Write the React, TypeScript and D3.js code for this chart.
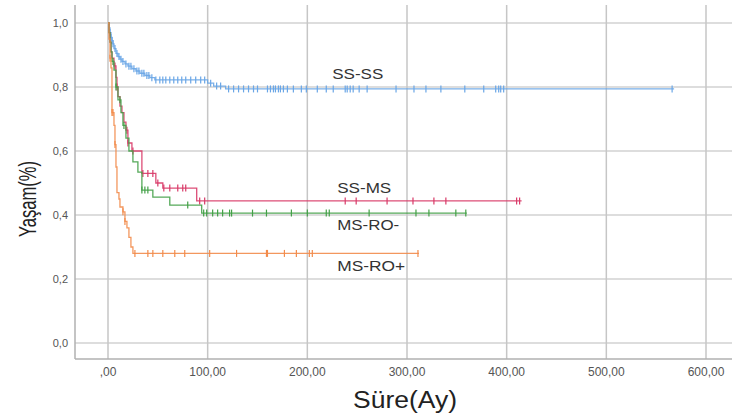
import React from "react";
import * as d3 from "d3";

const xTicks = [0, 100, 200, 300, 400, 500, 600];
const xTickLabels = [",00", "100,00", "200,00", "300,00", "400,00", "500,00", "600,00"];
const yTicks = [0, 0.2, 0.4, 0.6, 0.8, 1.0];
const yTickLabels = ["0,0", "0,2", "0,4", "0,6", "0,8", "1,0"];

// SS-SS
const ssSsTimes = [0, 1, 2, 3, 4, 5, 6, 8, 10, 12, 14, 17, 20, 24, 28, 32, 37, 42, 47, 100, 106, 118];
const ssSsSurv = [1.0, 0.985, 0.97, 0.955, 0.945, 0.935, 0.92, 0.905, 0.895, 0.887, 0.88, 0.872, 0.865, 0.857, 0.85, 0.843, 0.836, 0.829, 0.822, 0.812, 0.803, 0.794];
const ssSsEnd = 568;
const ssSsCensor = [1, 2, 3, 4, 5, 7, 9, 11, 13, 15, 18, 21, 23, 26, 29, 31, 34, 36, 39, 41, 44, 48, 52, 55, 58, 62, 66, 70, 74, 78, 83, 88, 93, 97, 103, 109, 113, 121, 126, 131, 136, 141, 146, 150, 160, 163, 166, 168, 171, 173, 176, 180, 186, 194, 199, 210, 219, 226, 238, 240, 243, 246, 252, 260, 289, 307, 319, 334, 358, 377, 389, 392, 394, 397, 566];

// SS-MS
const ssMsTimes = [0, 1, 2, 3, 4, 6, 8, 9, 10, 12, 14, 16, 18, 20, 24, 34, 48, 55, 89];
const ssMsSurv = [1.0, 0.97, 0.94, 0.91, 0.89, 0.866, 0.83, 0.8, 0.77, 0.74, 0.72, 0.69, 0.665, 0.625, 0.6, 0.53, 0.5, 0.484, 0.444];
const ssMsEnd = 415;
const ssMsCensor = [7, 9, 19, 20, 25, 35, 40, 45, 50, 56, 62, 70, 75, 78, 92, 97, 238, 249, 280, 306, 327, 339, 410, 413];

// MS-RO-
const msRoNegTimes = [0, 1, 2, 3, 4, 6, 8, 10, 13, 15, 18, 21, 25, 30, 34, 45, 62, 94];
const msRoNegSurv = [1.0, 0.97, 0.94, 0.91, 0.88, 0.853, 0.8, 0.76, 0.72, 0.68, 0.64, 0.6, 0.566, 0.534, 0.478, 0.456, 0.431, 0.406];
const msRoNegEnd = 360;
const msRoNegCensor = [5, 8, 12, 16, 34, 37, 40, 80, 96, 99, 105, 110, 115, 122, 124, 145, 159, 184, 200, 219, 222, 262, 309, 322, 349, 359];

// MS-RO+
const msRoPosTimes = [0, 1, 2, 3, 4, 6, 7, 8, 9, 11, 12, 15, 17, 19, 21, 23, 25];
const msRoPosSurv = [1.0, 0.95, 0.89, 0.86, 0.72, 0.68, 0.62, 0.55, 0.47, 0.45, 0.425, 0.41, 0.38, 0.36, 0.33, 0.3, 0.28];
const msRoPosEnd = 312;
const msRoPosCensor = [2, 4, 5, 7, 15, 17, 27, 40, 45, 55, 67, 77, 102, 129, 159, 160, 177, 189, 202, 205, 311];

const seriesNames = ["SS-SS", "SS-MS", "MS-RO-", "MS-RO+"];
const seriesColors = ["#6aa6e6", "#d83a68", "#43a047", "#f28c4c"];

const W = 732;
const H = 415;
const FONT = "'Liberation Sans', Arial, sans-serif";

function stepAt(times: number[], surv: number[], t: number) {
  let v = surv[0];
  for (let i = 0; i < times.length; i++) {
    if (times[i] <= t) v = surv[i];
  }
  return v;
}

export default function App() {
  const x = d3.scaleLinear().domain([0, 600]).range([108, 706]);
  const y = d3.scaleLinear().domain([0, 1]).range([343, 23]);
  const left = 75, right = 732, top = 5, bottom = 359;

  const series = [
    { times: ssSsTimes, surv: ssSsSurv, end: ssSsEnd, censor: ssSsCensor },
    { times: ssMsTimes, surv: ssMsSurv, end: ssMsEnd, censor: ssMsCensor },
    { times: msRoNegTimes, surv: msRoNegSurv, end: msRoNegEnd, censor: msRoNegCensor },
    { times: msRoPosTimes, surv: msRoPosSurv, end: msRoPosEnd, censor: msRoPosCensor },
  ];

  const line = d3
    .line<[number, number]>()
    .x((d) => x(d[0]))
    .y((d) => y(d[1]))
    .curve(d3.curveStepAfter);

  const labelPos = [
    { t: 225, v: 0.84, w: 51 },
    { t: 230, v: 0.484, w: 54 },
    { t: 230, v: 0.369, w: 62 },
    { t: 230, v: 0.24, w: 68 },
  ];

  return (
    <svg width={W} height={H} style={{ position: "absolute", left: 0, top: 0, background: "#fff" }}>
      <rect x={0} y={0} width={W} height={H} fill="#fff" />
      {yTicks.map((v) => (
        <line key={"gy" + v} x1={left} x2={right} y1={y(v)} y2={y(v)} stroke="#d2d2d2" strokeWidth={1.5} />
      ))}
      {xTicks.map((v) => (
        <line key={"gx" + v} x1={x(v)} x2={x(v)} y1={top} y2={bottom} stroke="#c6c6c6" strokeWidth={1.5} />
      ))}
      <line x1={left} x2={left} y1={top} y2={bottom} stroke="#b0b0b0" strokeWidth={1.5} />
      <line x1={left} x2={right} y1={bottom} y2={bottom} stroke="#b0b0b0" strokeWidth={1.5} />
      {yTicks.map((v, i) => (
        <text key={"ty" + v} x={68} y={y(v)} dy="0.35em" textAnchor="end" fontFamily={FONT} fontSize={11} fill="#555">
          {yTickLabels[i]}
        </text>
      ))}
      {xTicks.map((v, i) => (
        <text key={"tx" + v} x={x(v)} y={376} textAnchor="middle" fontFamily={FONT} fontSize={12} fill="#555">
          {xTickLabels[i]}
        </text>
      ))}
      {series.map((s, i) => {
        const pts: [number, number][] = s.times.map((t, j) => [t, s.surv[j]] as [number, number]);
        pts.push([s.end, s.surv[s.surv.length - 1]]);
        return (
          <g key={"s" + i}>
            <path d={line(pts) || ""} fill="none" stroke={seriesColors[i]} strokeWidth={1.3} opacity={0.9} />
            {s.censor.map((c, k) => {
              const cx = x(c);
              const cy = y(stepAt(s.times, s.surv, c));
              return <line key={k} x1={cx} x2={cx} y1={cy - 3.5} y2={cy + 3.5} stroke={seriesColors[i]} strokeWidth={1.2} />;
            })}
          </g>
        );
      })}
      {seriesNames.map((n, i) => (
        <text key={"l" + i} x={x(labelPos[i].t)} y={y(labelPos[i].v)} dy="0.35em" fontFamily={FONT} fontSize={15}
          textLength={labelPos[i].w} lengthAdjust="spacingAndGlyphs" fill="#333">
          {n}
        </text>
      ))}
      <text x={405} y={408} textAnchor="middle" fontFamily={FONT} fontSize={23} textLength={104}
        lengthAdjust="spacingAndGlyphs" fill="#222">
        Süre(Ay)
      </text>
      <text transform="translate(36,199) rotate(-90)" textAnchor="middle" fontFamily={FONT} fontSize={23}
        textLength={76} lengthAdjust="spacingAndGlyphs" fill="#222">
        Yaşam(%)
      </text>
    </svg>
  );
}
